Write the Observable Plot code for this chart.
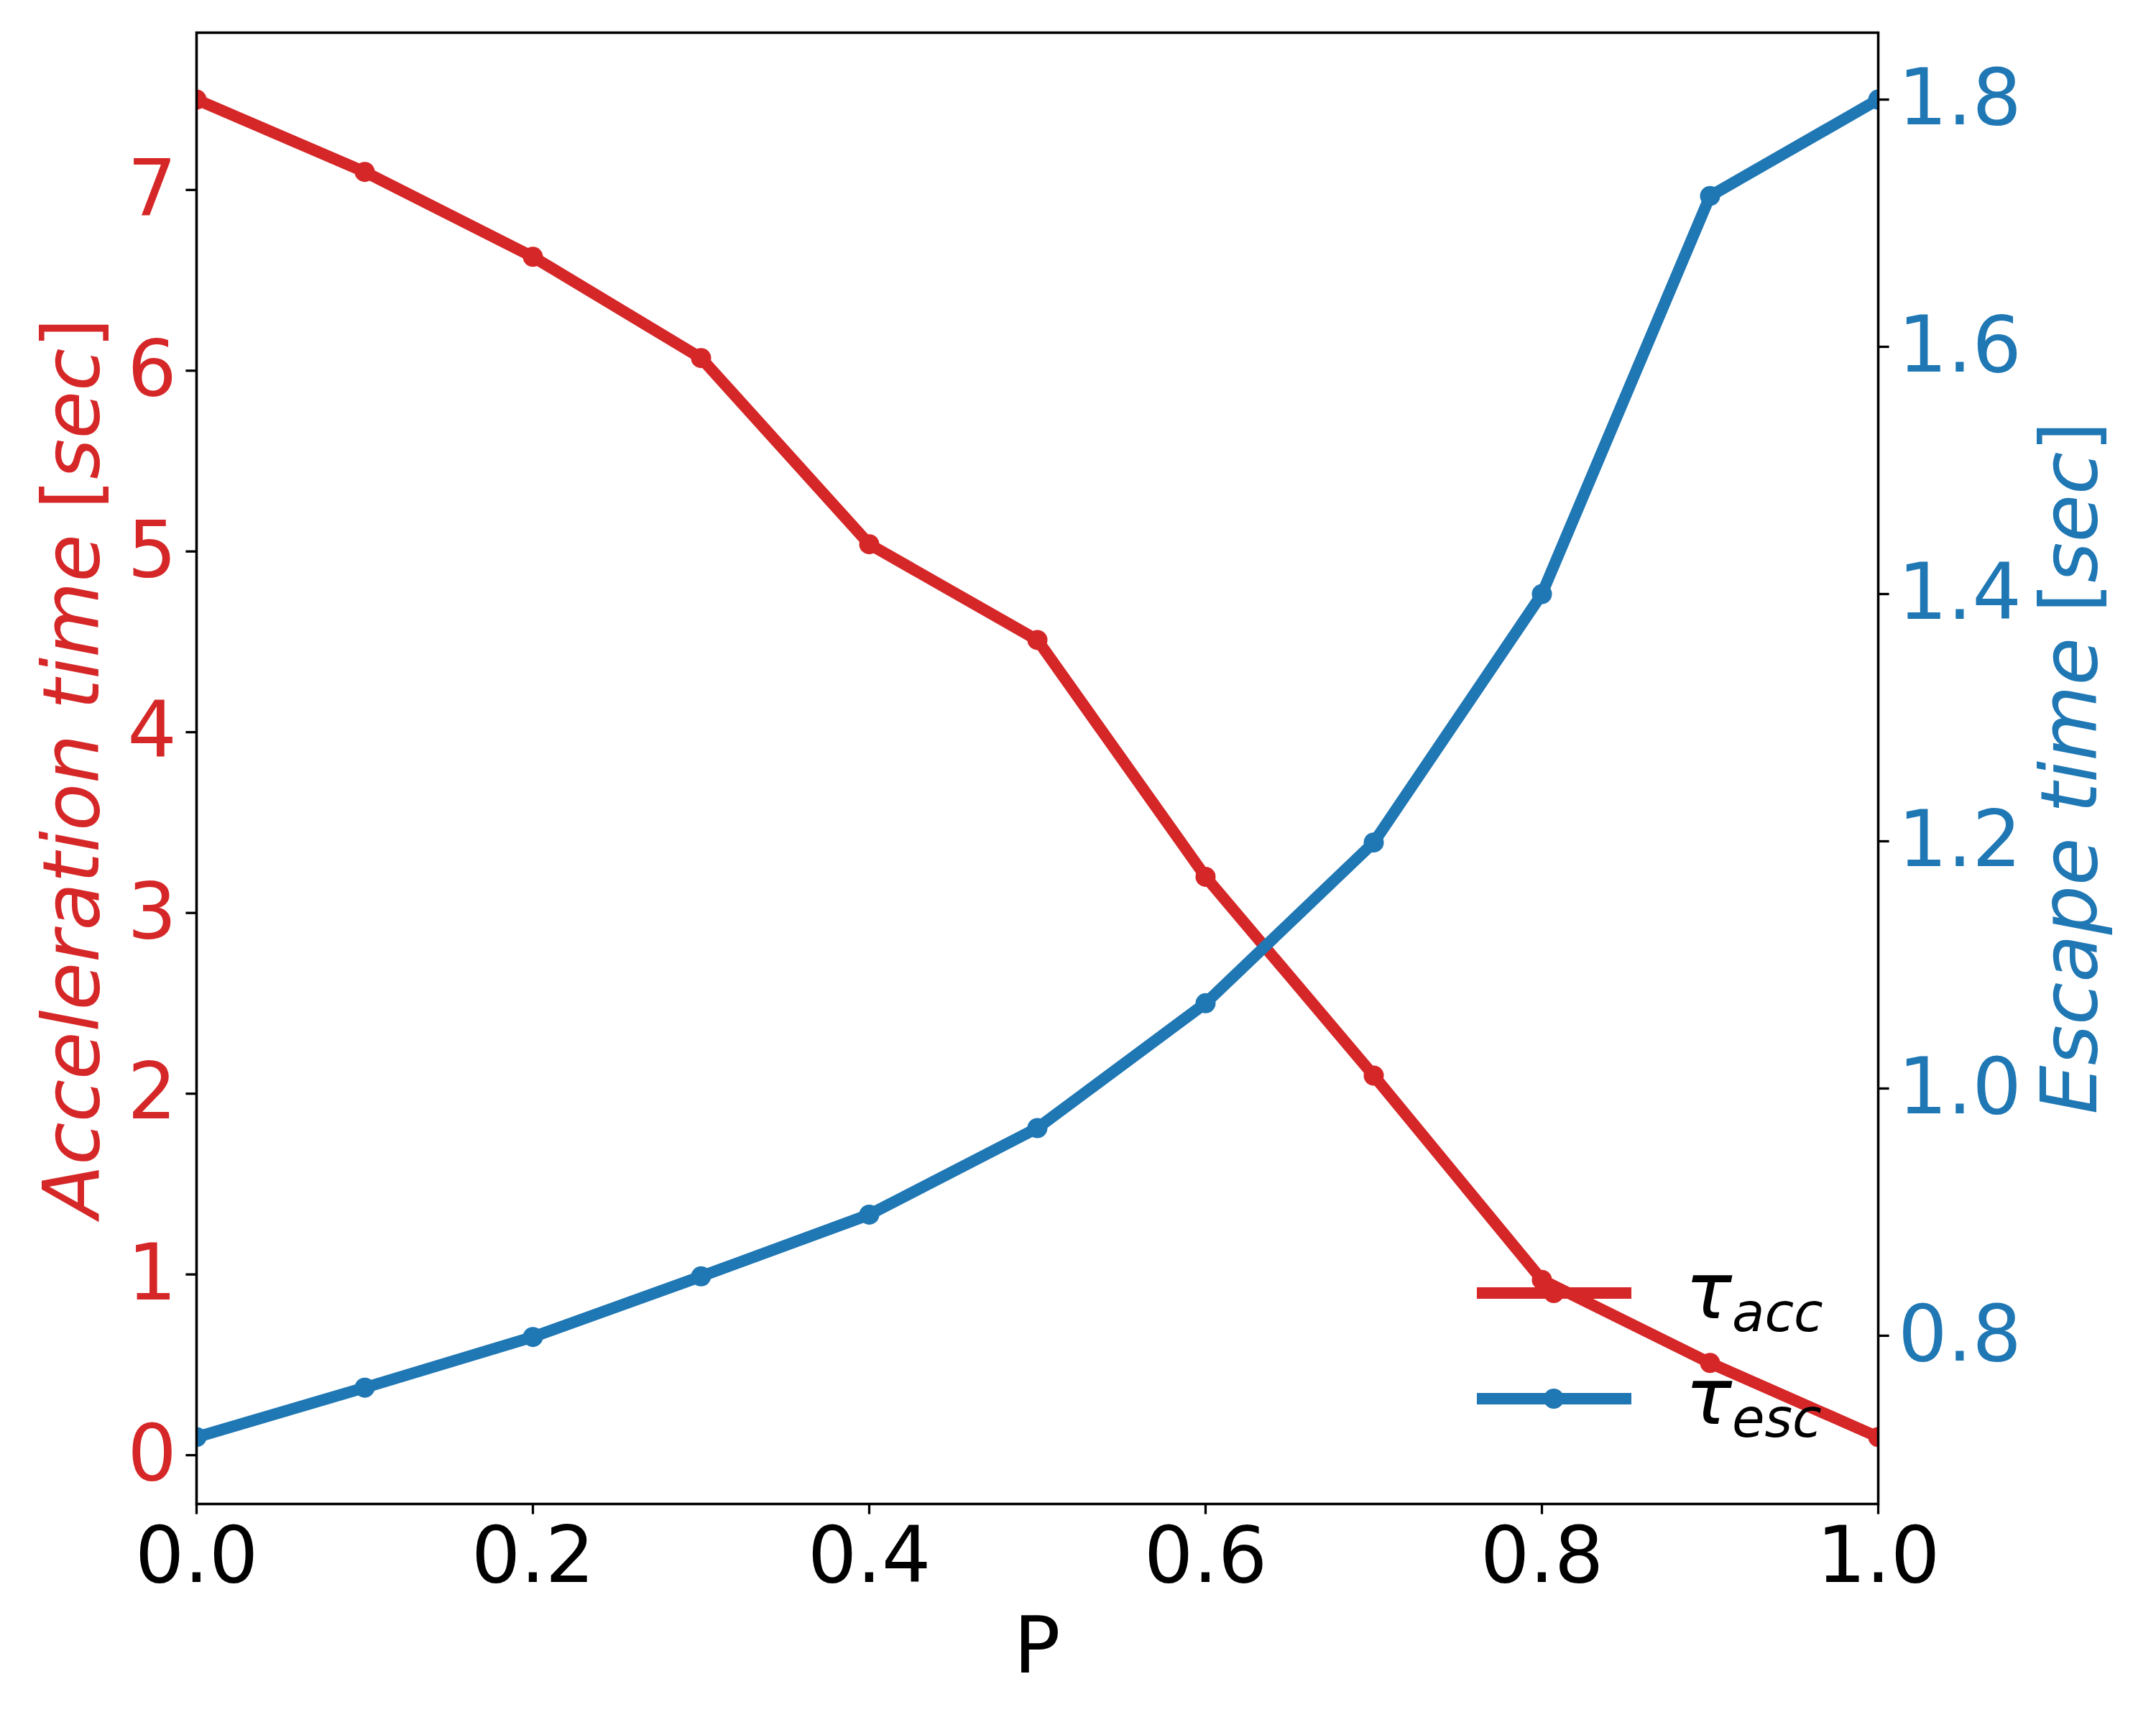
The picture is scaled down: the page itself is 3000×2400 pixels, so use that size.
<!DOCTYPE html>
<html><head><meta charset="utf-8">
<script src="https://cdn.jsdelivr.net/npm/d3@7"></script>
<script src="https://cdn.jsdelivr.net/npm/@observablehq/plot@0.6"></script>
<style>
html,body{margin:0;padding:0;background:#fff;}
#chart{position:relative;width:3000px;height:2400px;background:#fff;}
#chart svg{position:absolute;left:0;top:0;}
</style></head><body><div id="chart"></div>
<script>
// ---- data ----
const P = [0, 0.1, 0.2, 0.3, 0.4, 0.5, 0.6, 0.7, 0.8, 0.9, 1.0];
const tauAcc = [7.5, 7.1, 6.63, 6.07, 5.04, 4.51, 3.2, 2.1, 0.97, 0.51, 0.1];
const tauEsc = [0.718, 0.758, 0.799, 0.848, 0.898, 0.968, 1.069, 1.199, 1.40, 1.722, 1.80];
const xTicks = [0, 0.2, 0.4, 0.6, 0.8, 1.0];
const accTicks = [0, 1, 2, 3, 4, 5, 6, 7];
const escTicks = [0.8, 1.0, 1.2, 1.4, 1.6, 1.8];
const xLabel = "P";
const accLabel = [["Acceleration", true], [" ", false], ["time", true], [" ", false], ["[", false], ["sec", true], ["]", false]];
const escLabel = [["Escape", true], [" ", false], ["time", true], [" ", false], ["[", false], ["sec", true], ["]", false]];
const legendItems = [{sym: "τ", sub: "acc", color: "#d62728"}, {sym: "τ", sub: "esc", color: "#1f77b4"}];

const RED = "#d62728", BLUE = "#1f77b4";
const W = 3000, H = 2400, mL = 273, mR = 387, mT = 45, mB = 308;
const TICK = 14.6, SW = 3.3, FS = 108, LW = 16, R = 14;
function padded(vals) { const [a, b] = d3.extent(vals); const m = (b - a) * 0.05; return [a - m, b + m]; }
const rows = P.map((p, i) => ({p, acc: tauAcc[i], esc: tauEsc[i]}));
const common = {
  width: W, height: H, marginLeft: mL, marginRight: mR, marginTop: mT, marginBottom: mB,
  style: {fontFamily: "DejaVu Sans", background: "transparent", overflow: "visible"}
};

const plot1 = Plot.plot({
  ...common,
  x: {domain: [0, 1], axis: null},
  y: {domain: padded(tauAcc), axis: null},
  marks: [
    Plot.line(rows, {x: "p", y: "acc", stroke: RED, strokeWidth: LW, strokeLinejoin: "round", clip: true}),
    Plot.dot(rows, {x: "p", y: "acc", r: R, fill: RED, stroke: "none", clip: true}),
    Plot.axisX({ticks: xTicks, tickFormat: d3.format(".1f"), tickSize: TICK, tickPadding: 17, fontSize: FS, stroke: "black", fill: "black", strokeWidth: SW, label: null}),
    Plot.axisY({anchor: "left", ticks: accTicks, tickFormat: d3.format("d"), tickSize: TICK, tickPadding: 13, fontSize: FS, stroke: "black", fill: RED, strokeWidth: SW, label: null}),
    Plot.frame({stroke: "black", strokeWidth: SW})
  ]
});

const plot2 = Plot.plot({
  ...common,
  x: {domain: [0, 1], axis: null},
  y: {domain: padded(tauEsc), axis: null},
  marks: [
    Plot.line(rows, {x: "p", y: "esc", stroke: BLUE, strokeWidth: LW, strokeLinejoin: "round", clip: true}),
    Plot.dot(rows, {x: "p", y: "esc", r: R, fill: BLUE, stroke: "none", clip: true}),
    Plot.axisY({anchor: "right", ticks: escTicks, tickFormat: d3.format(".1f"), tickSize: TICK, tickPadding: 13, fontSize: FS, stroke: "black", fill: BLUE, strokeWidth: SW, label: null}),
    Plot.frame({stroke: "black", strokeWidth: SW})
  ]
});

const chart = document.getElementById("chart");
chart.appendChild(plot1);
chart.appendChild(plot2);

// ---- labels and legend ----
const svg = d3.select(plot2);
const cy = (mT + (H - mB)) / 2;
const cx = (mL + (W - mR)) / 2;

svg.append("text").attr("x", cx).attr("y", 2327).attr("text-anchor", "middle")
  .attr("font-family", "DejaVu Sans").attr("font-size", FS).attr("fill", "black").text(xLabel);

function rotLabel(x, parts, color) {
  const t = svg.append("text").attr("transform", `translate(${x},${cy}) rotate(-90)`)
    .attr("text-anchor", "middle").attr("font-family", "DejaVu Sans").attr("font-size", FS).attr("fill", color);
  parts.forEach(([s, it]) => t.append("tspan").attr("font-style", it ? "italic" : "normal").text(s));
}
rotLabel(137, accLabel, RED);
rotLabel(2917, escLabel, BLUE);

const legendRowsY = [1799, 1946];
legendItems.forEach((d, i) => {
  const y = legendRowsY[i];
  svg.append("line").attr("x1", 2055).attr("x2", 2270).attr("y1", y).attr("y2", y)
    .attr("stroke", d.color).attr("stroke-width", LW);
  svg.append("circle").attr("cx", 2162).attr("cy", y).attr("r", R).attr("fill", d.color);
  const t = svg.append("text").attr("x", 2345).attr("y", y + 35).attr("text-anchor", "start")
    .attr("font-family", "DejaVu Sans").attr("font-size", FS).attr("font-style", "italic").attr("fill", "black");
  t.append("tspan").text(d.sym);
  t.append("tspan").attr("font-size", 74).attr("dy", 18).text(d.sub);
});
</script></body></html>
